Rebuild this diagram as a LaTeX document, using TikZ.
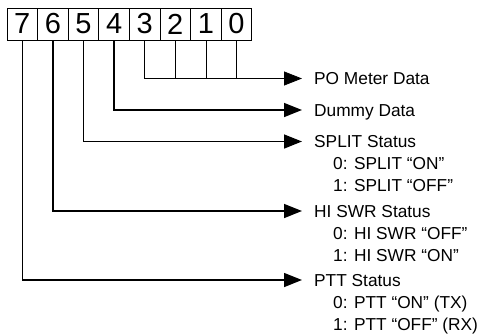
\documentclass[tikz,border=0pt]{standalone}
\usepackage{fontspec}
\setmainfont{Liberation Sans}
\usetikzlibrary{positioning,arrows.meta}

\begin{document}
\begin{tikzpicture}[x=1pt,y=-1pt,
  bit/.style={draw,line width=0.9pt,minimum width=30.6pt,minimum height=32pt,inner sep=0pt,outer sep=0pt,font=\fontsize{29}{29}\selectfont},
  lbl/.style={anchor=west,inner sep=0pt,text height=12.4pt,text depth=0pt,font=\fontsize{17.3}{20}\selectfont},
  feed/.style={line width=1.5pt,-{Triangle[length=18pt,width=14pt]},shorten >=12pt},
  tap/.style={line width=0.8pt}]
  \useasboundingbox (0,0) rectangle (479,335);
  % register bits
  \node[bit] (b7) at (22.3,24) {7};
  \node[bit,right=0pt of b7] (b6) {6};
  \node[bit,right=0pt of b6] (b5) {5};
  \node[bit,right=0pt of b5] (b4) {4};
  \node[bit,right=0pt of b4] (b3) {3};
  \node[bit,right=0pt of b3] (b2) {2};
  \node[bit,right=0pt of b2] (b1) {1};
  \node[bit,right=0pt of b1] (b0) {0};
  % meanings
  \node[lbl] (po) at (314,78.5) {PO Meter Data};
  \node[lbl] (dummy) at (314,110) {Dummy Data};
  \node[lbl] (split) at (314,141.5) {SPLIT Status};
  \node[lbl] (splitOn) at (333,163.5) {0: SPLIT “ON”};
  \node[lbl] (splitOff) at (333,185.5) {1: SPLIT “OFF”};
  \node[lbl] (swr) at (314,211) {HI SWR Status};
  \node[lbl] (swrOff) at (333,233) {0: HI SWR “OFF”};
  \node[lbl] (swrOn) at (333,255) {1: HI SWR “ON”};
  \node[lbl] (ptt) at (314,280) {PTT Status};
  \node[lbl] (pttOn) at (333,302) {0: PTT “ON” (TX)};
  \node[lbl] (pttOff) at (333,324) {1: PTT “OFF” (RX)};
  % connectors
  \draw[tap,-{Triangle[length=18pt,width=14pt]},shorten >=12pt] (b3.south) |- (po.west);
  \foreach \b in {b2,b1,b0} \draw[tap] (\b.south) -- (\b.south |- po.west);
  \draw[feed] (b4.south) |- (dummy.west);
  \draw[feed] (b5.south) |- (split.west);
  \draw[feed] (b6.south) |- (swr.west);
  \draw[feed] (b7.south) |- (ptt.west);
\end{tikzpicture}
\end{document}
